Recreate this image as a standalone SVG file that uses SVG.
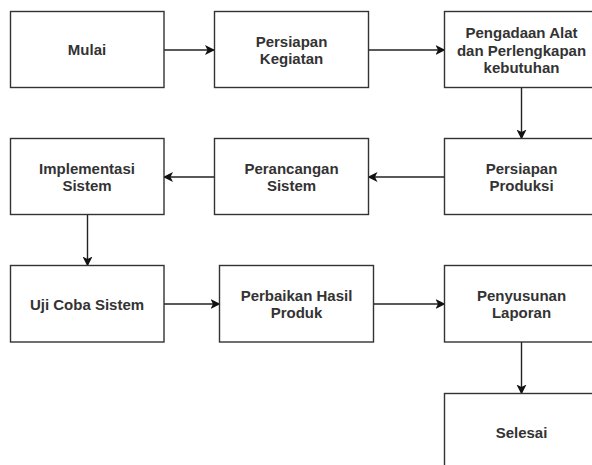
<svg xmlns="http://www.w3.org/2000/svg" width="592" height="465" viewBox="0 0 592 465">
<defs>
<marker id="arr" viewBox="0 0 10 10" refX="9" refY="5" markerWidth="10" markerHeight="10" markerUnits="userSpaceOnUse" orient="auto">
<path d="M0,0 L10,5 L0,10 L2.5,5 Z" fill="#111"/>
</marker>
</defs>
<style>
.box{fill:#fff;stroke:#333;stroke-width:1.4}
.t{font-family:"Liberation Sans",Arial,sans-serif;font-size:15px;font-weight:bold;fill:#333;text-anchor:middle}
.c{fill:none;stroke:#222;stroke-width:1.4;marker-end:url(#arr)}
</style>
<rect width="592" height="465" fill="#fff"/>
<g id="connectors">
<line class="c" x1="164" y1="50" x2="214" y2="50"/>
<line class="c" x1="368.5" y1="50" x2="444.5" y2="50"/>
<line class="c" x1="521.5" y1="87.5" x2="521.5" y2="138.5"/>
<line class="c" x1="444.5" y1="177" x2="368.5" y2="177"/>
<line class="c" x1="214.5" y1="177" x2="164" y2="177"/>
<line class="c" x1="87.5" y1="214.5" x2="87.5" y2="265.5"/>
<line class="c" x1="164" y1="304" x2="219.5" y2="304"/>
<line class="c" x1="373.5" y1="304" x2="444.5" y2="304"/>
<line class="c" x1="521.5" y1="342" x2="521.5" y2="393.5"/>
</g>
<g id="mulai"><rect class="box" x="10.5" y="11.5" width="153.5" height="76"/><text class="t" x="87" y="55">Mulai</text></g>
<g id="persiapan-kegiatan"><rect class="box" x="214.5" y="11.5" width="154" height="76"/><text class="t" x="291.5" y="46.5">Persiapan</text><text class="t" x="291.5" y="64">Kegiatan</text></g>
<g id="pengadaan"><rect class="box" x="444.5" y="11.5" width="154" height="76"/><text class="t" x="521.5" y="38">Pengadaan Alat</text><text class="t" x="521.5" y="55.5">dan Perlengkapan</text><text class="t" x="521.5" y="73">kebutuhan</text></g>
<g id="implementasi"><rect class="box" x="10.5" y="138.5" width="153.5" height="76"/><text class="t" x="87" y="173.5">Implementasi</text><text class="t" x="87" y="191">Sistem</text></g>
<g id="perancangan"><rect class="box" x="214.5" y="138.5" width="154" height="76"/><text class="t" x="291.5" y="173.5">Perancangan</text><text class="t" x="291.5" y="191">Sistem</text></g>
<g id="persiapan-produksi"><rect class="box" x="444.5" y="138.5" width="154" height="76"/><text class="t" x="521.5" y="173.5">Persiapan</text><text class="t" x="521.5" y="191">Produksi</text></g>
<g id="uji-coba"><rect class="box" x="10.5" y="265.5" width="153.5" height="76.5"/><text class="t" x="87" y="309.5">Uji Coba Sistem</text></g>
<g id="perbaikan"><rect class="box" x="219.5" y="265.5" width="154" height="76.5"/><text class="t" x="296.5" y="300.5">Perbaikan Hasil</text><text class="t" x="296.5" y="318">Produk</text></g>
<g id="penyusunan"><rect class="box" x="444.5" y="265.5" width="154" height="76.5"/><text class="t" x="521.5" y="300.5">Penyusunan</text><text class="t" x="521.5" y="318">Laporan</text></g>
<g id="selesai"><rect class="box" x="444.5" y="393.5" width="154" height="76"/><text class="t" x="521.5" y="437.5">Selesai</text></g>
</svg>
